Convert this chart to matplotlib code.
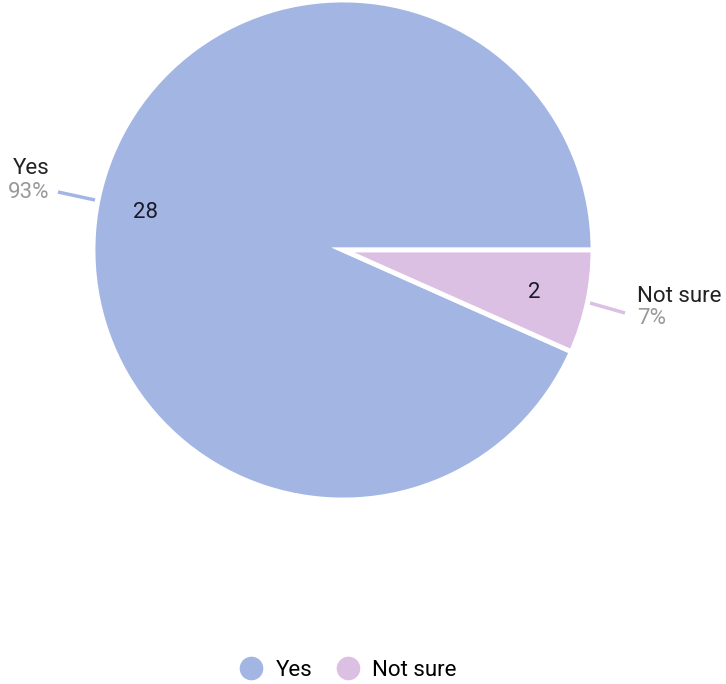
import matplotlib.pyplot as plt
from matplotlib.lines import Line2D

labels = ['Yes', 'Not sure']
counts = [28, 2]
colors = ['#a3b5e2', '#dcc0e3']

plt.rcParams['font.family'] = ['Roboto', 'DejaVu Sans']

fig = plt.figure(figsize=(7.26, 6.84), dpi=100)
ax = fig.add_axes([0, 0, 1, 1])

cx, cy, r = 343, 434, 250
wedges, _ = ax.pie(counts, colors=colors, startangle=0, counterclock=True,
                   center=(cx, cy), radius=r, frame=True,
                   wedgeprops=dict(edgecolor='white', linewidth=3.5))
ax.set_xlim(0, 726)
ax.set_ylim(0, 684)
ax.set_aspect('equal')
ax.axis('off')

total = sum(counts)
fs = 16

# counts inside the slices
ax.text(145, 684 - 212, str(counts[0]), fontsize=fs, ha='center', va='center', color='#1a1a2a')
ax.text(534, 684 - 292, str(counts[1]), fontsize=fs, ha='center', va='center', color='#1a1a2a')

# outside labels with leader lines
ax.plot([58, 95], [684 - 192, 684 - 200], color=colors[0], lw=2.5, solid_capstyle='butt')
ax.text(31, 684 - 169, labels[0], fontsize=fs, ha='center', va='center', color='#222222')
ax.text(29, 684 - 192, f'{round(100 * counts[0] / total)}%', fontsize=fs,
        ha='center', va='center', color='#999999')

ax.plot([590, 625], [684 - 303, 684 - 313], color=colors[1], lw=2.5, solid_capstyle='butt')
ax.text(637, 684 - 296, labels[1], fontsize=fs, ha='left', va='center', color='#222222')
ax.text(637, 684 - 319, f'{round(100 * counts[1] / total)}%', fontsize=fs,
        ha='left', va='center', color='#999999')

handles = [Line2D([0], [0], marker='o', linestyle='', markersize=16,
                  markerfacecolor=c, markeredgecolor=c) for c in colors]
fig.legend(handles, labels, loc='center', bbox_to_anchor=(0.472, 1 - 670 / 684),
           ncol=2, frameon=False, fontsize=fs, handletextpad=0.1, columnspacing=0.6)

fig.savefig('out.png', dpi=100)
